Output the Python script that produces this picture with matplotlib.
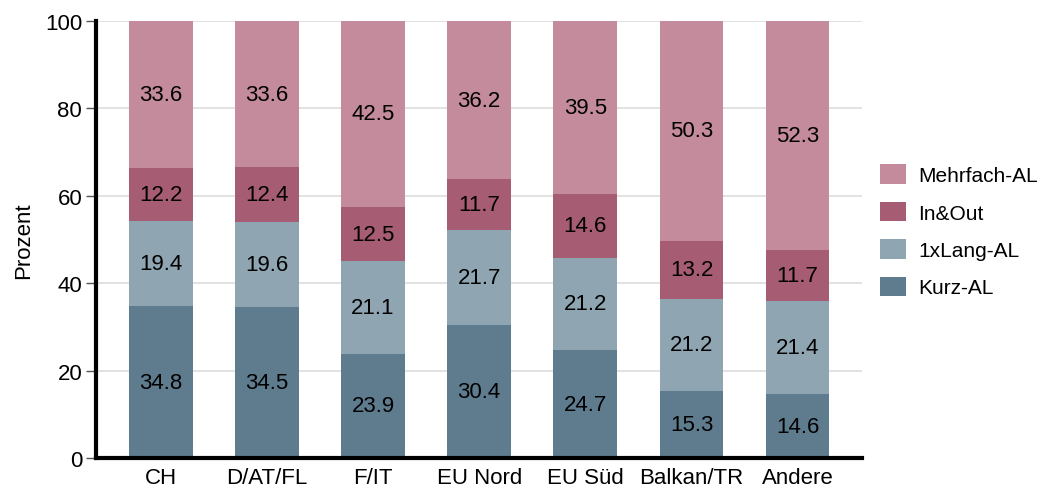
import matplotlib
matplotlib.use("Agg")
import matplotlib.pyplot as plt
import numpy as np

plt.rcParams['font.family'] = ['Liberation Sans', 'DejaVu Sans']

regions = ['CH', 'D/AT/FL', 'F/IT', 'EU Nord', 'EU Süd', 'Balkan/TR', 'Andere']
kurz = [34.8, 34.5, 23.9, 30.4, 24.7, 15.3, 14.6]
lang = [19.4, 19.6, 21.1, 21.7, 21.2, 21.2, 21.4]
inout = [12.2, 12.4, 12.5, 11.7, 14.6, 13.2, 11.7]
mehrfach = [33.6, 33.6, 42.5, 36.2, 39.5, 50.3, 52.3]

series = [('Kurz-AL', kurz, '#5f7c8e'),
          ('1xLang-AL', lang, '#8fa5b2'),
          ('In&Out', inout, '#a65c72'),
          ('Mehrfach-AL', mehrfach, '#c48b9c')]

fig = plt.figure(figsize=(10.44, 4.89), dpi=100)
ax = fig.add_axes([0.092, 0.061, 0.734, 0.894])

x = np.arange(len(regions))
bottom = np.zeros(len(regions))
handles = []
for name, vals, col in series:
    vals = np.array(vals)
    b = ax.bar(x, vals, 0.6, bottom=bottom, color=col, label=name, zorder=2)
    handles.append(b)
    for xi, v, b0 in zip(x, vals, bottom):
        ax.text(xi, b0 + v / 2, f'{v:.1f}', ha='center', va='center',
                fontsize=16, color='black', zorder=3)
    bottom += vals

ax.set_xlim(-0.61, len(regions) - 1 + 0.61)
ax.set_ylim(0, 100)
ax.set_yticks([0, 20, 40, 60, 80, 100])
ax.set_xticks(x)
ax.set_xticklabels(regions)
ax.yaxis.grid(True, color='#dddddd', linewidth=1.2, zorder=0)
ax.set_axisbelow(True)
ax.tick_params(axis='x', length=0, labelsize=16, pad=6)
ax.tick_params(axis='y', length=7, width=1, color='#555555', labelsize=16, pad=3)
ax.set_ylabel('Prozent', fontsize=16, labelpad=8)
for s in ['top', 'right']:
    ax.spines[s].set_visible(False)
for s in ['left', 'bottom']:
    ax.spines[s].set_linewidth(3)
    ax.spines[s].set_color('black')

ax.legend(handles[::-1], [s[0] for s in series][::-1], loc='center left',
          bbox_to_anchor=(0.998, 0.52), frameon=False, fontsize=15,
          handlelength=1.25, handleheight=1.05, labelspacing=0.8, handletextpad=0.6)

fig.savefig('out.png', dpi=100)
